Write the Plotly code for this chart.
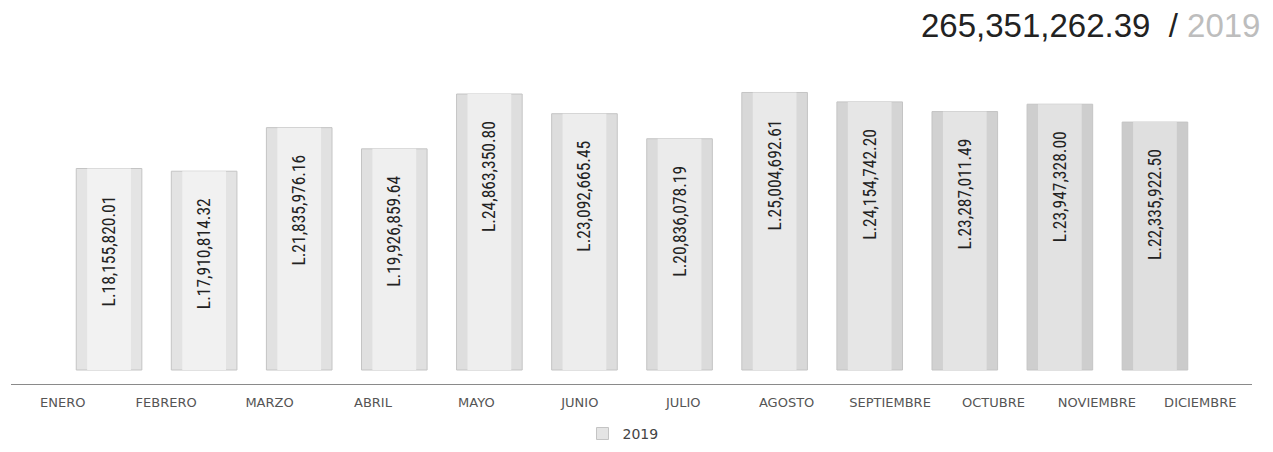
import plotly.graph_objects as go

months = ["ENERO", "FEBRERO", "MARZO", "ABRIL", "MAYO", "JUNIO", "JULIO",
          "AGOSTO", "SEPTIEMBRE", "OCTUBRE", "NOVIEMBRE", "DICIEMBRE"]
values = [18155820.01, 17910814.32, 21835976.16, 19926859.64, 24863350.80,
          23092665.45, 20836078.19, 25004692.61, 24154742.20, 23287011.49,
          23947328.00, 22335922.50]
value_labels = ["L.18,155,820.01", "L.17,910,814.32", "L.21,835,976.16",
                "L.19,926,859.64", "L.24,863,350.80", "L.23,092,665.45",
                "L.20,836,078.19", "L.25,004,692.61", "L.24,154,742.20",
                "L.23,287,011.49", "L.23,947,328.00", "L.22,335,922.50"]
series_name = "2019"
total_label = "265,351,262.39"

# page body has an 8px margin -> figure sized to fit the window
FW, FH = 1265, 444
pad = "\u00a0" * 6

edge_colors = ["#e4e4e4", "#e3e3e3", "#e1e1e1", "#e0e0e0", "#dedede", "#dddddd",
               "#dbdbdb", "#d8d8d8", "#d4d4d4", "#d1d1d1", "#cecece", "#cbcbcb"]
core_colors = ["#f2f2f2", "#f1f1f1", "#f0f0f0", "#efefef", "#eeeeee", "#ededed",
               "#ebebeb", "#e9e9e9", "#e6e6e6", "#e4e4e4", "#e2e2e2", "#dfdfdf"]

fig = go.Figure()
# invisible trace to carry the category axis
fig.add_trace(go.Scatter(
    x=list(range(len(months))), y=values, xaxis="x", yaxis="y",
    mode="markers", marker=dict(opacity=0), showlegend=False, hoverinfo="skip",
))
# outer cylinder body
fig.add_trace(go.Bar(
    x=months, y=values, xaxis="x2", yaxis="y",
    width=0.69, marker=dict(color=edge_colors, line=dict(color="#c4c4c4", width=1)),
    name=series_name, showlegend=True, hoverinfo="skip",
))
# inner highlight
fig.add_trace(go.Bar(
    x=months, y=values, xaxis="x2", yaxis="y",
    width=0.46, marker=dict(color=core_colors, line=dict(width=0)),
    text=[t + pad for t in value_labels], textposition="inside",
    insidetextanchor="end", textangle=-90,
    textfont=dict(family="Liberation Sans Narrow, Arial Narrow, Roboto Condensed, Liberation Sans, sans-serif",
                  size=17.5, color="#222222"),
    constraintext="none", cliponaxis=False,
    showlegend=False, hoverinfo="skip",
))

fig.update_layout(
    width=FW, height=FH,
    margin=dict(l=0, r=0, t=52, b=68),
    paper_bgcolor="white", plot_bgcolor="white",
    barmode="overlay",
    xaxis=dict(
        domain=[3 / FW, 1244 / FW], range=[-0.5, 11.5], type="linear",
        tickmode="array", tickvals=list(range(len(months))), ticktext=months,
        showline=True, linecolor="#8a8a8a", linewidth=1, showgrid=False,
        zeroline=False, ticks="", anchor="y", ticklabelstandoff=6,
        tickfont=dict(family="DejaVu Sans, Lato, sans-serif", size=13, color="#555555"),
    ),
    xaxis2=dict(
        domain=[53.5 / FW, 1194.5 / FW], range=[-0.5, 11.5], type="category",
        categoryorder="array", categoryarray=months,
        visible=False, anchor="y",
    ),
    yaxis=dict(range=[-1.26e6, 27.93e6], visible=False, showgrid=False, zeroline=False),
    legend=dict(orientation="h", x=615 / FW, xanchor="center", y=-0.154, yanchor="middle",
                font=dict(family="DejaVu Sans, Lato, sans-serif", size=14, color="#444444"),
                itemwidth=30),
    annotations=[dict(
        xref="paper", yref="paper", x=1254 / FW, y=1.0, xanchor="right", yanchor="middle",
        yshift=35, showarrow=False,
        text=total_label + "  / <span style='color:#bdbdbd'>" + series_name + "</span>",
        font=dict(family="Liberation Sans, Arial, sans-serif", size=33, color="#222222"),
    )],
)

fig.write_html("out.html")
